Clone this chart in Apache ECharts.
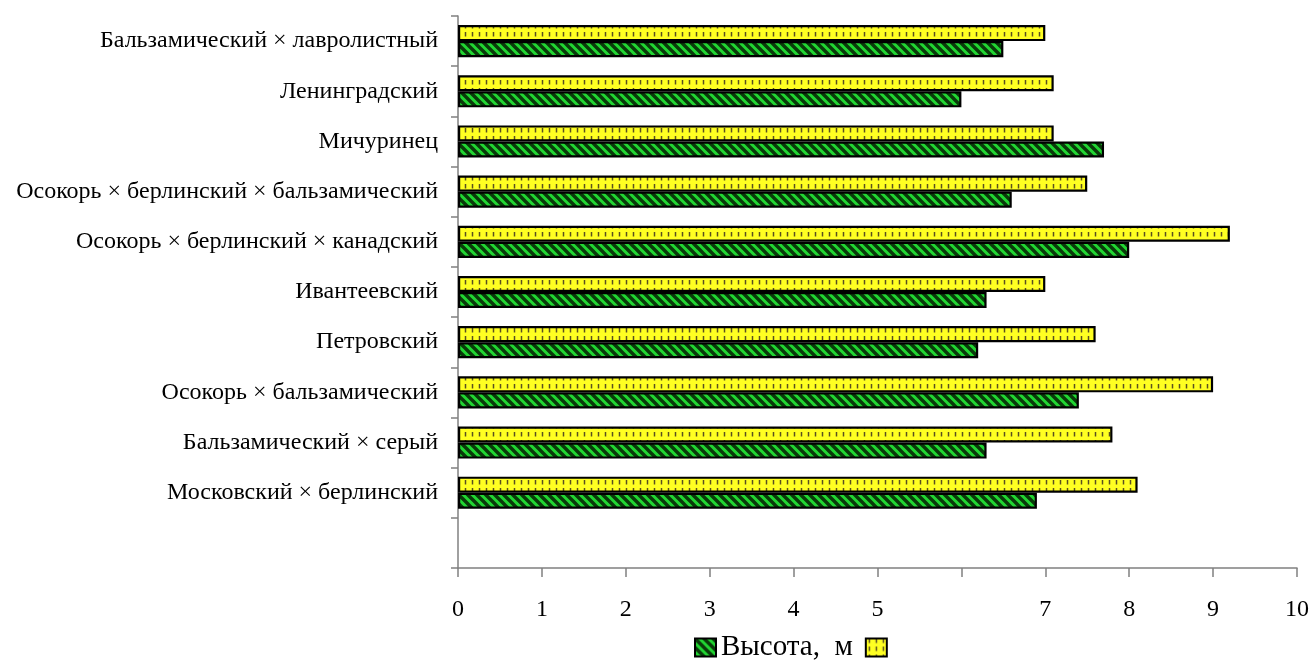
<!DOCTYPE html>
<html><head><meta charset="utf-8">
<script src="https://cdn.jsdelivr.net/npm/echarts@6/dist/echarts.min.js"></script>
<style>html,body{margin:0;padding:0;background:#fff}#c{width:1312px;height:660px}</style>
</head><body><div id="c"></div>
<script>
// categories listed bottom-to-top (first one is the empty bottom slot)
const categories = ['', 'Московский × берлинский', 'Бальзамический × серый', 'Осокорь × бальзамический', 'Петровский', 'Ивантеевский', 'Осокорь × берлинский × канадский', 'Осокорь × берлинский × бальзамический', 'Мичуринец', 'Ленинградский', 'Бальзамический × лавролистный'];
const heightValues = [null, 6.9, 6.3, 7.4, 6.2, 6.3, 8.0, 6.6, 7.7, 6.0, 6.5];
const secondValues = [null, 8.1, 7.8, 9.0, 7.6, 7.0, 9.2, 7.5, 7.1, 7.1, 7.0];
const xTickLabels = ['0','1','2','3','4','5','','7','8','9','10'];
const seriesNames = ['Высота,  м', ' '];

function greenPattern(){
  const c = document.createElement('canvas'); c.width = 9; c.height = 9;
  const g = c.getContext('2d');
  g.fillStyle = '#22d633'; g.fillRect(0,0,9,9);
  g.strokeStyle = '#0a3a0a'; g.lineWidth = 3.4;
  g.beginPath();
  g.moveTo(-2,-2); g.lineTo(11,11);
  g.moveTo(-11,-2); g.lineTo(2,11);
  g.moveTo(7,-2); g.lineTo(20,11);
  g.stroke();
  return c;
}
function yellowPattern(){
  const c = document.createElement('canvas'); c.width = 7; c.height = 8;
  const g = c.getContext('2d');
  g.fillStyle = '#ffff22'; g.fillRect(0,0,7,8);
  g.strokeStyle = '#5a5020'; g.lineWidth = 1.5;
  g.beginPath();
  g.moveTo(3.5,0); g.lineTo(3.5,4.5);
  g.stroke();
  return c;
}

const chart = echarts.init(document.getElementById('c'));
chart.setOption({
  animation: false,
  textStyle: { fontFamily: 'Liberation Serif' },
  grid: { left: 458, right: 12, top: 16, bottom: 92, containLabel: false },
  xAxis: {
    type: 'value', min: 0, max: 10, interval: 1,
    axisLine: { show: true, lineStyle: { color: '#808080', width: 1.5 } },
    axisTick: { show: true, inside: false, length: 9, lineStyle: { color: '#808080', width: 1.5 } },
    splitLine: { show: false },
    axisLabel: { margin: 30, fontSize: 24, color: '#000', fontFamily: 'Liberation Serif',
      formatter: v => xTickLabels[Math.round(v)] }
  },
  yAxis: {
    type: 'category', data: categories,
    axisLine: { show: true, lineStyle: { color: '#808080', width: 1.5 } },
    axisTick: { show: true, length: 7, lineStyle: { color: '#808080', width: 1.5 } },
    axisLabel: { fontSize: 24, color: '#000', margin: 20, fontFamily: 'Liberation Serif' }
  },
  legend: {
    data: seriesNames, top: 633, left: 694, padding: 0, itemGap: 12, itemWidth: 21, itemHeight: 18,
    icon: 'rect',
    textStyle: { fontSize: 29, color: '#000', fontFamily: 'Liberation Serif' }
  },
  series: [
    { name: seriesNames[1], type: 'bar', data: secondValues, barGap: '0%', barCategoryGap: '36%',
      itemStyle: { color: { image: yellowPattern(), repeat: 'repeat' }, borderColor: '#000', borderWidth: 2.2 } },
    { name: seriesNames[0], type: 'bar', data: heightValues, barGap: '0%', barCategoryGap: '36%',
      itemStyle: { color: { image: greenPattern(), repeat: 'repeat' }, borderColor: '#000', borderWidth: 2.2 } }
  ]
});
</script></body></html>
